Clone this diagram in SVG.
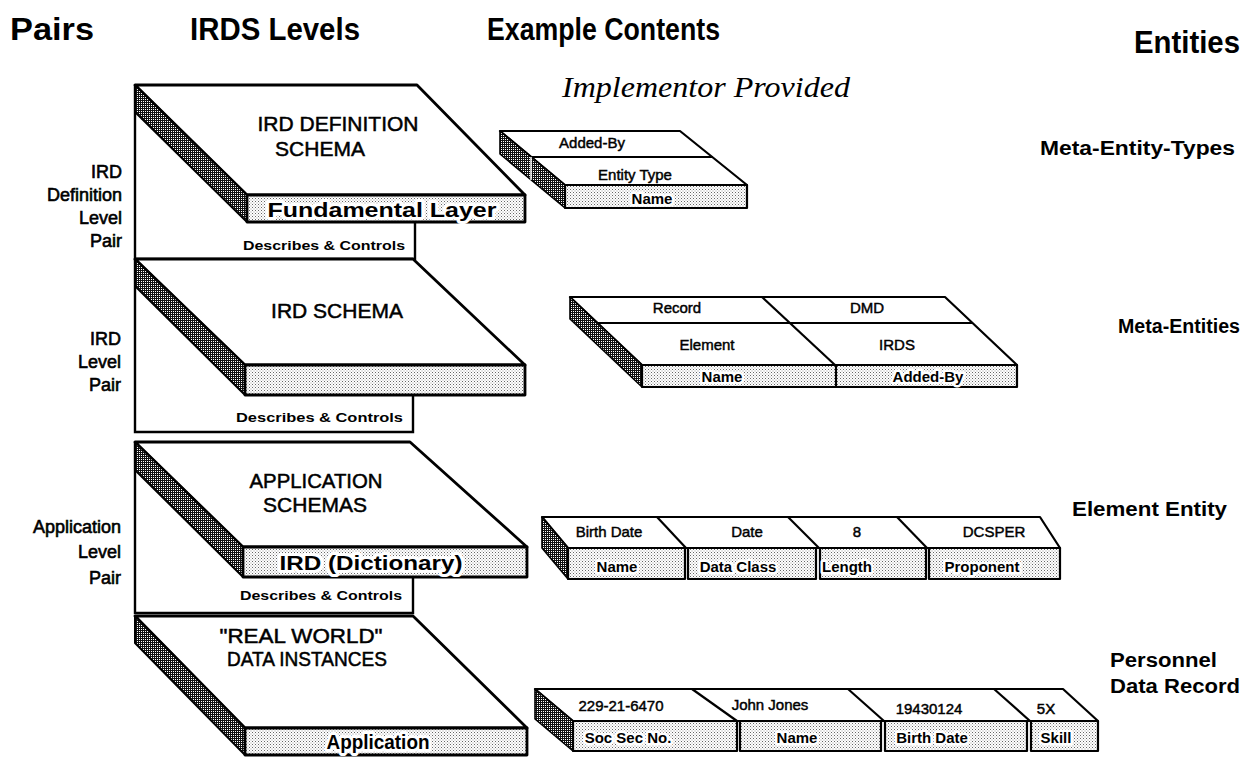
<svg xmlns="http://www.w3.org/2000/svg" width="1256" height="757" viewBox="0 0 1256 757">
  <defs>
    <!-- dense dot screen for the shaded side faces -->
    <pattern id="dk" width="2" height="2" patternUnits="userSpaceOnUse">
      <rect width="2" height="2" fill="#111"/>
      <rect x="1" y="1" width="1" height="1" fill="#fff"/>
    </pattern>
    <!-- light dot screen for the front faces -->
    <pattern id="lt" width="3" height="3" patternUnits="userSpaceOnUse">
      <rect width="3" height="3" fill="#fff"/>
      <rect x="0" y="0" width="1" height="1" fill="#666"/>
      <rect x="1.5" y="1.5" width="1" height="1" fill="#999"/>
    </pattern>
    <style>
      .face { fill: #fff; stroke: #000; stroke-width: 2.8; stroke-linejoin: round; }
      .side { fill: url(#dk); stroke: #000; stroke-width: 2; stroke-linejoin: round; }
      .front { fill: url(#lt); stroke: #000; stroke-width: 2.8; stroke-linejoin: round; }
      .tface { fill: #fff; stroke: #000; stroke-width: 2.2; stroke-linejoin: round; }
      .tside { fill: url(#dk); stroke: #000; stroke-width: 1.6; stroke-linejoin: round; }
      .tfront { fill: url(#lt); stroke: #000; stroke-width: 2.2; stroke-linejoin: round; }
      .div { fill: none; stroke: #000; stroke-width: 2.2; }
      .link { fill: none; stroke: #000; stroke-width: 2.4; stroke-linejoin: miter; }
      text { font-family: "Liberation Sans", Arial, Helvetica, sans-serif; fill: #000; }
      .hd { font-size: 31px; font-weight: bold; }
      .impl { font-family: "Liberation Serif", "Times New Roman", serif; font-style: italic; font-size: 29px; }
      .pair { font-size: 18px; text-anchor: end; stroke: #000; stroke-width: 0.6px; }
      .ent { font-size: 20px; font-weight: bold; }
      .title { font-size: 21px; text-anchor: middle; stroke: #000; stroke-width: 0.5px; }
      .layer { font-size: 21px; font-weight: bold; text-anchor: middle; stroke: #fff; stroke-width: 6px; stroke-linejoin: round; paint-order: stroke; }
      .dc { font-size: 13px; font-weight: bold; }
      .cell { font-size: 15px; text-anchor: middle; stroke: #000; stroke-width: 0.45px; }
      .fcell { font-size: 15px; font-weight: bold; text-anchor: middle; stroke: #fff; stroke-width: 5px; stroke-linejoin: round; paint-order: stroke; }
    </style>
  </defs>

  <rect width="1256" height="757" fill="#fff"/>

  <!-- column headings -->
  <g id="headings">
    <text class="hd" x="10" y="40" textLength="84" lengthAdjust="spacingAndGlyphs">Pairs</text>
    <text class="hd" x="190" y="40" textLength="170" lengthAdjust="spacingAndGlyphs">IRDS Levels</text>
    <text class="hd" x="487" y="40" textLength="233" lengthAdjust="spacingAndGlyphs">Example Contents</text>
    <text class="hd" x="1134" y="53" textLength="106" lengthAdjust="spacingAndGlyphs">Entities</text>
    <text class="impl" x="562" y="97" textLength="288" lengthAdjust="spacingAndGlyphs">Implementor Provided</text>
  </g>

  <!-- level-pair labels -->
  <g id="pair-labels">
    <text class="pair" x="122" y="178">IRD</text>
    <text class="pair" x="122" y="201">Definition</text>
    <text class="pair" x="122" y="224">Level</text>
    <text class="pair" x="122" y="247">Pair</text>
    <text class="pair" x="121" y="345">IRD</text>
    <text class="pair" x="121" y="368">Level</text>
    <text class="pair" x="121" y="391">Pair</text>
    <text class="pair" x="121" y="533">Application</text>
    <text class="pair" x="121" y="558">Level</text>
    <text class="pair" x="121" y="584">Pair</text>
  </g>

  <!-- "Describes & Controls" brackets between levels -->
  <g id="connectors">
    <path class="link" d="M135,85 V259 H415 V222"/>
    <path class="link" d="M135,259 V432 H413 V395"/>
    <path class="link" d="M135,442 V613 H413 V577"/>
    <text class="dc" x="243" y="250" textLength="162" lengthAdjust="spacingAndGlyphs">Describes &amp; Controls</text>
    <text class="dc" x="236" y="422" textLength="167" lengthAdjust="spacingAndGlyphs">Describes &amp; Controls</text>
    <text class="dc" x="240" y="600" textLength="162" lengthAdjust="spacingAndGlyphs">Describes &amp; Controls</text>
  </g>

  <!-- IRDS level slabs -->
  <g id="ird-definition-schema">
    <path class="face" d="M135,85 H417 L525,195 H247 Z"/>
    <path class="side" d="M135,85 L247,195 V222 L135,112 Z"/>
    <rect class="front" x="247" y="195" width="278" height="27"/>
    <text class="title" x="338" y="131">IRD DEFINITION</text>
    <text class="title" x="320" y="156">SCHEMA</text>
    <text class="layer" x="382" y="217" textLength="229" lengthAdjust="spacingAndGlyphs">Fundamental Layer</text>
  </g>

  <g id="ird-schema">
    <path class="face" d="M135,259 H413 L525,365 H245 Z"/>
    <path class="side" d="M135,259 L245,365 V395 L135,286 Z"/>
    <rect class="front" x="245" y="365" width="280" height="30"/>
    <text class="title" x="337" y="318">IRD SCHEMA</text>
  </g>

  <g id="application-schemas">
    <path class="face" d="M135,442 H410 L527,547 H243 Z"/>
    <path class="side" d="M135,442 L243,547 V577 L135,470 Z"/>
    <rect class="front" x="243" y="547" width="284" height="30"/>
    <text class="title" x="316" y="488" textLength="133" lengthAdjust="spacingAndGlyphs">APPLICATION</text>
    <text class="title" x="315" y="512">SCHEMAS</text>
    <text class="layer" x="371" y="570" textLength="183" lengthAdjust="spacingAndGlyphs">IRD (Dictionary)</text>
  </g>

  <g id="real-world-data">
    <path class="face" d="M135,616 H413 L527,728 H245 Z"/>
    <path class="side" d="M135,616 L245,728 V755 L135,643 Z"/>
    <rect class="front" x="245" y="728" width="282" height="27"/>
    <text class="title" x="301" y="643" textLength="163" lengthAdjust="spacingAndGlyphs">"REAL WORLD"</text>
    <text class="title" x="307" y="666" textLength="160" lengthAdjust="spacingAndGlyphs">DATA INSTANCES</text>
    <text class="layer" x="378" y="749" font-size="20" textLength="103" lengthAdjust="spacingAndGlyphs">Application</text>
  </g>

  <!-- example content tables -->
  <g id="meta-entity-types-table">
    <path class="tface" d="M500,131 H680 L747,185 H565 Z"/>
    <path class="tside" d="M500,131 L565,185 V208 L500,154 Z"/>
    <line class="div" x1="531" y1="157" x2="713" y2="157"/>
    <line x1="531" y1="157" x2="531" y2="180" stroke="#fff" stroke-width="1.5"/>
    <rect class="tfront" x="565" y="185" width="182" height="23"/>
    <text class="cell" x="592" y="148">Added-By</text>
    <text class="cell" x="635" y="180">Entity Type</text>
    <text class="fcell" x="652" y="204">Name</text>
  </g>

  <g id="meta-entities-table">
    <path class="tface" d="M570,297 H945 L1017,365 H642 Z"/>
    <path class="tside" d="M570,297 L642,365 V387 L570,319 Z"/>
    <line class="div" x1="598" y1="323" x2="973" y2="323"/>
    <line class="div" x1="762" y1="297" x2="835" y2="365"/>
    <rect class="tfront" x="642" y="365" width="375" height="22"/>
    <line class="div" x1="836" y1="365" x2="836" y2="387"/>
    <text class="cell" x="677" y="313">Record</text>
    <text class="cell" x="867" y="313">DMD</text>
    <text class="cell" x="707" y="350">Element</text>
    <text class="cell" x="897" y="350">IRDS</text>
    <text class="fcell" x="722" y="382">Name</text>
    <text class="fcell" x="928" y="382">Added-By</text>
  </g>

  <g id="element-entity-table">
    <path class="tface" d="M542,517 H1040 L1060,548 H568 Z"/>
    <path class="tside" d="M542,517 L568,548 V579 L542,548 Z"/>
    <line class="div" x1="657" y1="517" x2="686" y2="548"/>
    <line class="div" x1="788" y1="517" x2="819" y2="548"/>
    <line class="div" x1="897" y1="517" x2="927" y2="548"/>
    <rect class="tfront" x="568" y="548" width="117" height="31"/>
    <rect class="tfront" x="688" y="548" width="128" height="31"/>
    <rect class="tfront" x="820" y="548" width="106" height="31"/>
    <rect class="tfront" x="929" y="548" width="131" height="31"/>
    <text class="cell" x="609" y="537">Birth Date</text>
    <text class="cell" x="747" y="537">Date</text>
    <text class="cell" x="857" y="537">8</text>
    <text class="cell" x="994" y="537">DCSPER</text>
    <text class="fcell" x="617" y="572">Name</text>
    <text class="fcell" x="738" y="572">Data Class</text>
    <text class="fcell" x="847" y="572">Length</text>
    <text class="fcell" x="982" y="572">Proponent</text>
  </g>

  <g id="personnel-record-table">
    <path class="tface" d="M535,689 H1063 L1098,721 H573 Z"/>
    <path class="tside" d="M535,689 L573,721 V751 L535,719 Z"/>
    <line class="div" x1="692" y1="689" x2="737" y2="721"/>
    <line class="div" x1="848" y1="689" x2="884" y2="721"/>
    <line class="div" x1="994" y1="689" x2="1030" y2="721"/>
    <rect class="tfront" x="573" y="721" width="164" height="30"/>
    <rect class="tfront" x="740" y="721" width="141" height="30"/>
    <rect class="tfront" x="885" y="721" width="142" height="30"/>
    <rect class="tfront" x="1031" y="721" width="67" height="30"/>
    <text class="cell" x="621" y="711">229-21-6470</text>
    <text class="cell" x="770" y="710">John Jones</text>
    <text class="cell" x="929" y="714">19430124</text>
    <text class="cell" x="1046" y="714">5X</text>
    <text class="fcell" x="628" y="743">Soc Sec No.</text>
    <text class="fcell" x="797" y="743">Name</text>
    <text class="fcell" x="932" y="743">Birth Date</text>
    <text class="fcell" x="1056" y="743">Skill</text>
  </g>

  <!-- entity class labels -->
  <g id="entity-labels">
    <text class="ent" x="1040" y="155" textLength="195" lengthAdjust="spacingAndGlyphs">Meta-Entity-Types</text>
    <text class="ent" x="1118" y="333" textLength="122" lengthAdjust="spacingAndGlyphs">Meta-Entities</text>
    <text class="ent" x="1072" y="516" textLength="155" lengthAdjust="spacingAndGlyphs">Element Entity</text>
    <text class="ent" x="1110" y="667" textLength="107" lengthAdjust="spacingAndGlyphs">Personnel</text>
    <text class="ent" x="1110" y="693" textLength="130" lengthAdjust="spacingAndGlyphs">Data Record</text>
  </g>
</svg>
